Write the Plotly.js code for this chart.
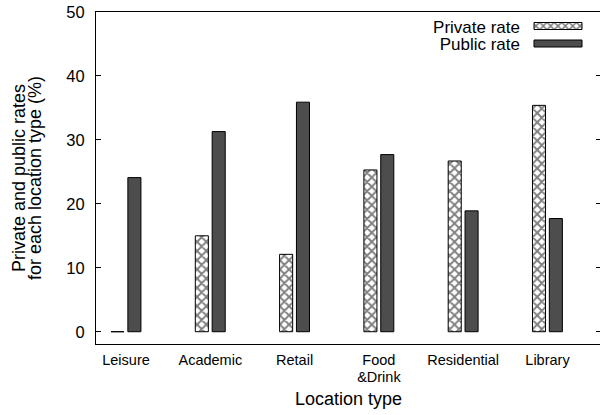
<!DOCTYPE html>
<html>
<head>
<meta charset="utf-8">
<script src="https://cdn.plot.ly/plotly-3.0.1.min.js"></script>
<style>
  html, body { margin: 0; padding: 0; overflow: hidden; background: #fff; }
  #chart { width: 604px; height: 415px; }
</style>
</head>
<body>
<div id="chart"></div>
<script>
// Location types along the x axis
const categories = ['Leisure', 'Academic', 'Retail', 'Food<br>&Drink', 'Residential', 'Library'];
// Rates in percent for each location type
const privateRate = [0, 15.0, 12.1, 25.3, 26.7, 35.4];
const publicRate = [24.1, 31.3, 35.9, 27.7, 18.9, 17.7];
// y-axis ticks
const yTicks = [0, 10, 20, 30, 40, 50];

const positions = categories.map((_, i) => i);
const FONT = 'Liberation Sans, Arial, Helvetica, sans-serif';
const BAR_W = 0.155;

const traces = [
  {
    type: 'bar',
    name: 'Private rate',
    x: positions,
    y: privateRate,
    width: BAR_W,
    offset: -0.178,
    marker: {
      color: '#ffffff',
      line: { color: '#000000', width: 1 },
      pattern: { shape: 'x', fgcolor: '#000000', bgcolor: '#ffffff', size: 6.5, solidity: 0.5, fillmode: 'overlay' }
    },
    hoverinfo: 'skip'
  },
  {
    type: 'bar',
    name: 'Public rate',
    x: positions,
    y: publicRate,
    width: BAR_W,
    offset: 0.022,
    marker: {
      color: '#4d4d4d',
      line: { color: '#000000', width: 1 }
    },
    hoverinfo: 'skip'
  }
];

const layout = {
  width: 604,
  height: 415,
  margin: { l: 96, r: 3, t: 12, b: 71 },
  paper_bgcolor: '#ffffff',
  plot_bgcolor: '#ffffff',
  barmode: 'overlay',
  font: { family: FONT, color: '#000000' },
  showlegend: true,
  legend: {
    x: 0.66, y: 0.99, xanchor: 'left', yanchor: 'top',
    bgcolor: 'rgba(0,0,0,0)', borderwidth: 0,
    font: { family: FONT, size: 17, color: '#000000' },
    traceorder: 'normal'
  },
  xaxis: {
    range: [-0.356, 5.635],
    tickmode: 'array',
    tickvals: positions,
    ticktext: categories,
    ticks: '',
    showline: true,
    linecolor: '#000000',
    linewidth: 1,
    mirror: true,
    showgrid: false,
    zeroline: false,
    tickfont: { family: FONT, size: 14.5, color: '#000000' },
    ticklabelstandoff: 3,
    title: { text: 'Location type', font: { family: FONT, size: 18, color: '#000000' }, standoff: 6 }
  },
  yaxis: {
    range: [-1.92, 50],
    tickmode: 'array',
    tickvals: yTicks,
    ticktext: yTicks.map(String),
    ticks: 'inside',
    ticklen: 5,
    tickcolor: '#000000',
    showline: true,
    linecolor: '#000000',
    linewidth: 1,
    mirror: 'ticks',
    showgrid: false,
    zeroline: false,
    ticklabelstandoff: 7,
    tickfont: { family: FONT, size: 16.5, color: '#000000' },
    title: { text: 'Private and public rates<br>for each location type (%)', font: { family: FONT, size: 18, color: '#000000' }, standoff: 12 }
  }
};

// Legend keys sit to the right of their labels, as wide bars
const LEGEND_TEXT_RIGHT = 520;
const LEGEND_KEY_CENTER = 558;
const LEGEND_ROWS = [26, 43.5];

// Tighter spacing for multi-line labels
function tightenLines(textEl, dy) {
  const lines = textEl.querySelectorAll('tspan.line');
  lines.forEach(function (ln, i) {
    if (i > 0) ln.setAttribute('dy', dy);
  });
}

const gd = document.getElementById('chart');
Plotly.newPlot(gd, traces, layout, { staticPlot: true, displayModeBar: false }).then(function () {
  const scroll = gd.querySelector('.legend .scrollbox');
  if (scroll) scroll.removeAttribute('clip-path');
  const items = gd.querySelectorAll('.legend .traces');
  items.forEach(function (item, i) {
    const parent = item.parentNode;
    const m = parent.getScreenCTM();
    const ox = m ? m.e : 0;
    const oy = m ? m.f : 0;
    item.setAttribute('transform', 'translate(0,' + (LEGEND_ROWS[i] - oy) + ')');
    const txt = item.querySelector('text.legendtext');
    if (txt) {
      txt.setAttribute('text-anchor', 'end');
      txt.style.textAnchor = 'end';
      txt.setAttribute('x', LEGEND_TEXT_RIGHT - ox);
    }
    const sym = item.querySelector('.legendpoints path');
    if (sym) {
      sym.setAttribute('d', 'M-24,3.5H24V-3.5H-24Z');
      sym.setAttribute('transform', 'translate(' + (LEGEND_KEY_CENTER - ox) + ',0)');
    }
  });
  const ytitle = gd.querySelector('.g-ytitle text');
  if (ytitle) tightenLines(ytitle, '0.9em');
  gd.querySelectorAll('.xtick text').forEach(function (t) { tightenLines(t, '1.15em'); });
});
</script>
</body>
</html>
